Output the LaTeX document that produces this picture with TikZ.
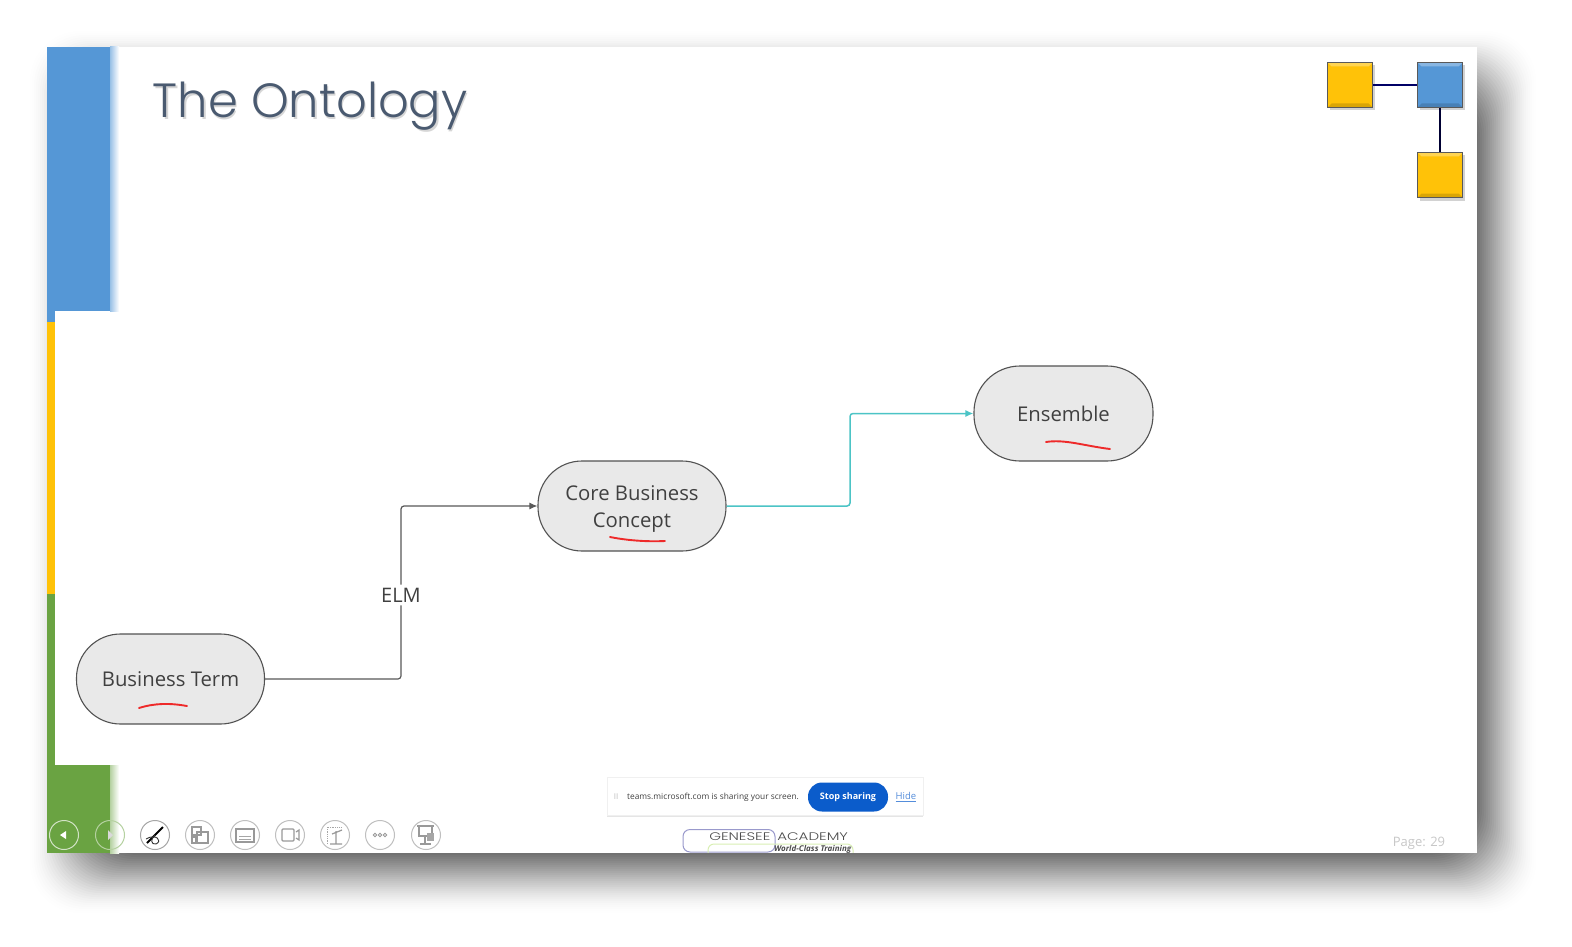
\documentclass[tikz,border=0pt]{standalone}
\usepackage{fontspec}
\setmainfont{Open Sans}
\newfontfamily\titlefont{Poppins Light}
\usetikzlibrary{arrows.meta,shadows}
\definecolor{slideblue}{HTML}{5597D6}
\definecolor{slideyellow}{HTML}{FFC208}
\definecolor{slidegreen}{HTML}{6AA342}
\definecolor{titlegray}{HTML}{4A5A70}
\definecolor{termfill}{HTML}{E9E9E9}
\definecolor{teamsblue}{HTML}{0B5CCB}
\definecolor{flowteal}{HTML}{4CC4C6}
\definecolor{inkred}{HTML}{EE2A2A}
\tikzset{
  termbox/.style={draw=black!68,line width=1.1pt,fill=termfill,rounded corners=44pt,minimum height=90pt,align=center,font=\fontsize{20.3}{27.5}\selectfont,text=black!75},
  tilebox/.style={draw=black!65,line width=1.6pt,minimum size=45pt,inner sep=0pt,drop shadow={shadow xshift=2pt,shadow yshift=-3pt,opacity=.35},
    path picture={
      \fill[white,opacity=.3] (path picture bounding box.north west) -- (path picture bounding box.north east) -- ([xshift=-4pt,yshift=-4pt]path picture bounding box.north east) -- ([xshift=4pt,yshift=-4pt]path picture bounding box.north west) -- cycle;
      \fill[black,opacity=.15] (path picture bounding box.south west) -- (path picture bounding box.south east) -- ([xshift=-4pt,yshift=4pt]path picture bounding box.south east) -- ([xshift=4pt,yshift=4pt]path picture bounding box.south west) -- cycle;
    }},
  toolring/.style={circle,draw=#1,line width=1pt,minimum size=29pt,inner sep=0pt},
  redmark/.style={draw=inkred,line width=1.9pt,line cap=round},
  flowline/.style={line width=1.2pt,rounded corners=3pt},
  logotext/.style={anchor=west,inner sep=0pt,text=black!70,font=\titlefont\fontsize{11}{12}\selectfont,xscale=1.37,transform shape},
}
\begin{document}
\begin{tikzpicture}[x=1pt,y=-1pt]
  \useasboundingbox (0,0) rectangle (1572,947);
  \fill[white] (0,0) rectangle (1572,947);
  % shadow behind the slide
  \foreach \s in {0,...,44}{
    \pgfmathsetmacro{\shadeop}{.004+.0014*\s}
    \fill[black,opacity=\shadeop,rounded corners=50pt] (30+2*\s,31+2*\s) rectangle (1536-2*\s,913-2*\s);
  }
  \fill[white] (47,47) rectangle (1477,853);
  % side bands
  \fill[slideblue] (47,47) rectangle (110,311);
  \shade[left color=slideblue!60,right color=white] (110,47) rectangle (119,311);
  \fill[slideblue] (47,311) rectangle (55,322);
  \fill[slideyellow] (47,322) rectangle (55,594);
  \fill[slidegreen] (47,594) rectangle (55,765);
  \fill[slidegreen] (47,765) rectangle (110,853);
  \shade[left color=slidegreen!50,right color=white] (110,765) rectangle (119,853);

  \node[text=black!45,opacity=.35,font=\titlefont\fontsize{48}{50}\selectfont,anchor=west,inner sep=0pt] (titleshade) at (154,108.5) {The Ontology};
  \node[text=titlegray,font=\titlefont\fontsize{48}{50}\selectfont,anchor=west,inner sep=0pt] (title) at (152.5,106) {The Ontology};

  \node[tilebox,fill=slideyellow] (tileleft) at (1350,85) {};
  \node[tilebox,fill=slideblue] (tileright) at (1440,85) {};
  \node[tilebox,fill=slideyellow] (tilelow) at (1440,175) {};
  \draw[line width=2pt,black!60!blue] (tileleft) -- (tileright);
  \draw[line width=2.2pt,black!80!blue] (tileright) -- (tilelow);

  \node[termbox,minimum width=188pt] (term) at (170.5,679) {Business Term};
  \node[termbox,minimum width=188pt] (core) at (632,506) {\rule{0pt}{24pt}Core Business\\\strut Concept};
  \node[termbox,minimum width=179pt,minimum height=95pt,rounded corners=46pt] (ens) at (1063.5,413.5) {Ensemble};

  \node[font=\fontsize{20}{24}\selectfont,text=black!75,inner sep=3pt] (elm) at (401,595) {ELM};
  \coordinate (bend) at (850,460);
  \draw[flowline,black!65] (term.east) -| (elm.south);
  \draw[flowline,black!65,-{Latex[length=8pt,width=7pt]}] (elm.north) |- (core.west);
  \draw[flowline,flowteal,line width=1.5pt,-{Latex[length=8pt,width=7pt]}] (core.east) -| (bend) |- (ens.west);

  \draw[redmark] (139,708) .. controls (155,703) and (170,703) .. (187,706);
  \draw[redmark] (610,537) .. controls (625,540) and (645,542) .. (665,541);
  \draw[redmark] (1046,442) .. controls (1065,439) and (1085,446) .. (1110,449);

  % screen sharing bar
  \node[draw=black!6,fill=white,minimum width=316pt,minimum height=38pt,drop shadow={shadow xshift=0pt,shadow yshift=-2pt,opacity=.2}] (bar) at (765,796) {};
  \node[text=black!25,font=\fontsize{8}{9}\selectfont] (grip) at (616,797) {II};
  \node[anchor=west,inner sep=0pt,text=black!75,font=\fontsize{8.35}{11}\selectfont] (barlabel) at (627,797) {teams.microsoft.com is sharing your screen.};
  \node[fill=teamsblue,text=white,rounded corners=14pt,minimum width=80pt,minimum height=29pt,inner sep=0pt,font=\bfseries\fontsize{9}{11}\selectfont] (stop) at (848,797) {Stop sharing};
  \node[text=teamsblue!70,font=\fontsize{9.5}{11}\selectfont,inner sep=0pt] (hide) at (906,797) {\underline{Hide}};

  % logo
  \begin{scope}
    \clip (47,47) rectangle (1477,852);
    \draw[blue!50!black!40,line width=1pt,rounded corners=7pt] (683,829.5) rectangle (775,852);
    \draw[yellow!50!green!30,line width=1pt,rounded corners=6pt] (708,844) rectangle (853,860);
    \node[logotext] (genesee) at (709,837) {GENESEE};
    \node[logotext] (academy) at (777,837) {ACADEMY};
    \node[anchor=west,inner sep=0pt,text=black!70,font=\bfseries\itshape\fontsize{8}{8}\selectfont] (worldclass) at (774,849) {World-Class Training};
  \end{scope}

  \node[text=black!22,font=\fontsize{13}{15}\selectfont,inner sep=0pt] (pageno) at (1419,843.5) {Page: 29};

  % toolbar
  \foreach \i/\x/\c in {1/64/white!70!slidegreen,2/110/white!50!slidegreen,3/155/black!35,4/200/black!25,5/245/black!25,6/290/black!25,7/335/black!25,8/380/black!25,9/426/black!25}
    \node[toolring=\c] (tool\i) at (\x,835) {};
  \fill[white] (60,835) -- (66,831) -- (66,839) -- cycle;
  \fill[white!85!black] (113,835) -- (108,830) -- (108,840) -- cycle;
  \draw[black,line width=1.8pt] (147,843) -- (163,827);
  \draw[black!80,line width=.9pt] (146,839) .. controls (156,833) and (163,841) .. (156,844) .. controls (151,845) and (150,839) .. (155,835);
  \draw[black!40,line width=1.2pt] (192,827) rectangle (201,835) (197,832) rectangle (208,843) (192,837) rectangle (196,843);
  \draw[black!40,line width=1.2pt] (236,829) rectangle (254,842);
  \draw[black!35,line width=.7pt] (239,836) -- (251,836) (239,839) -- (251,839);
  \draw[black!40,line width=1.2pt,rounded corners=1pt] (282,829) rectangle (294,841);
  \draw[black!40,line width=1.2pt] (296,832) -- (299,830) -- (299,840) -- (296,838);
  \draw[black!35,line width=.8pt,densely dotted] (327,844) -- (327,827) -- (342,827);
  \draw[black!40,line width=1.2pt] (336,831) -- (336,843) (330,844) -- (342,844) (332,834) -- (342,830);
  \foreach \x in {375,380,385}
    \draw[black!40,line width=.9pt] (\x,835) circle (1.8);
  \draw[black!40,line width=1.2pt] (417,826) -- (434,826) (419,826) rectangle (432,836) (425,836) -- (425,844) (420,844) -- (431,844);
  \fill[black!35] (427,833) rectangle (434,841);
\end{tikzpicture}
\end{document}
